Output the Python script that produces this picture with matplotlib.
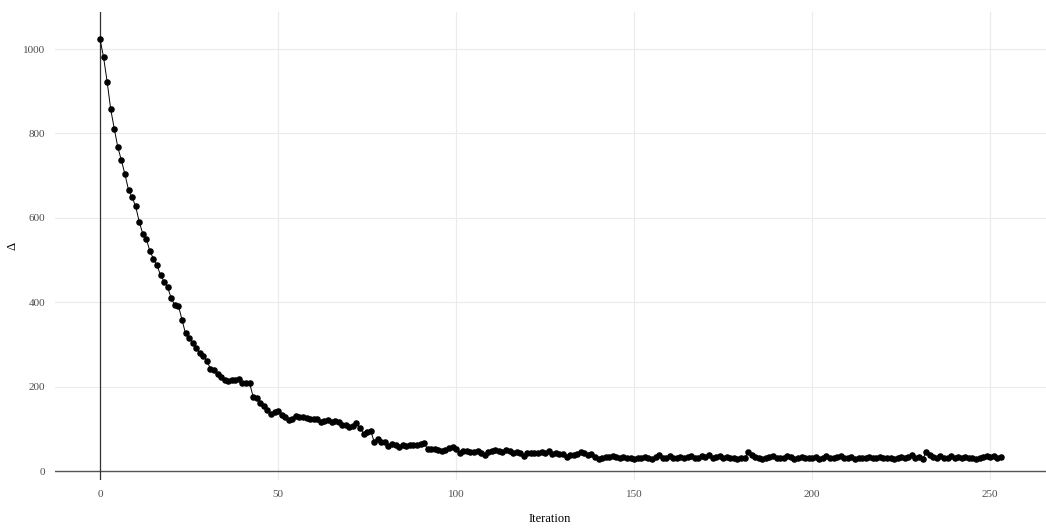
import matplotlib
matplotlib.use("Agg")
import matplotlib.pyplot as plt
import numpy as np

# Delta per iteration
delta = [
    1023, 980, 922, 857, 811, 767, 736, 703, 666, 649,
    627, 591, 562, 550, 521, 503, 487, 464, 449, 435,
    409, 393, 392, 359, 326, 316, 304, 291, 279, 272,
    261, 242, 239, 231, 223, 215, 214, 216, 216, 219,
    209, 209, 208, 176, 174, 162, 154, 145, 135, 141,
    143, 133, 129, 122, 123, 130, 129, 127, 126, 123,
    123, 124, 116, 119, 122, 117, 119, 116, 110, 109,
    105, 107, 113, 103, 88, 93, 95, 69, 77, 69,
    69, 59, 63, 61, 58, 61, 59, 62, 62, 62,
    63, 67, 51, 51, 51, 50, 47, 50, 54, 56,
    53, 43, 47, 47, 45, 44, 48, 43, 39, 46,
    47, 50, 48, 44, 50, 47, 42, 46, 42, 36,
    42, 42, 43, 42, 44, 42, 47, 40, 42, 40,
    40, 34, 38, 37, 40, 46, 43, 37, 40, 33,
    28, 32, 34, 34, 36, 34, 31, 33, 30, 32,
    29, 31, 30, 33, 31, 29, 34, 38, 31, 30,
    36, 32, 30, 34, 31, 33, 36, 32, 30, 35,
    33, 37, 31, 34, 36, 32, 33, 30, 31, 29,
    32, 30, 44, 38, 34, 31, 29, 30, 33, 35,
    31, 32, 30, 36, 33, 29, 31, 34, 30, 32,
    30, 33, 29, 31, 35, 32, 30, 34, 36, 31,
    30, 33, 29, 31, 30, 32, 34, 31, 30, 33,
    31, 30, 32, 29, 31, 33, 30, 34, 38, 31,
    33, 29, 44, 39, 33, 31, 36, 30, 32, 35,
    31, 33, 30, 34, 31, 32, 29, 31, 33, 35,
    34, 36, 30, 34,
]
iteration = np.arange(len(delta))

xticks = [0, 50, 100, 150, 200, 250]
yticks = [0, 200, 400, 600, 800, 1000]

plt.rcParams['font.family'] = ['Liberation Serif', 'DejaVu Serif']

W, H = 1046, 530
fig = plt.figure(figsize=(W / 100, H / 100), dpi=100)
ax = fig.add_axes([55 / W, 50 / H, 991 / W, 468 / H])

ax.set_xlim(-12.65, 265.65)
ax.set_ylim(-21.3, 1087.7)

ax.axhline(0, color='#555555', lw=1.0, zorder=2)
ax.axvline(0, color='#333333', lw=0.9, zorder=2)
ax.plot(iteration, delta, color='black', lw=0.7, zorder=3)
ax.plot(iteration, delta, 'o', color='black', ms=3.7, zorder=4)

ax.set_xticks(xticks)
ax.set_yticks(yticks)
ax.grid(True, color='#ebebeb', lw=0.8)
ax.set_axisbelow(True)
for s in ax.spines.values():
    s.set_visible(False)
ax.tick_params(length=0, labelsize=8, colors='#4d4d4d', pad=7)
ax.tick_params(axis='x', pad=7)

fig.text(550 / W, 1 - 519 / H, "Iteration", fontsize=9, ha='center', va='center')
fig.text(12 / W, 1 - 246 / H, "Δ", fontsize=9, ha='center', va='center',
         rotation=90)

fig.savefig("out.png", dpi=100)
